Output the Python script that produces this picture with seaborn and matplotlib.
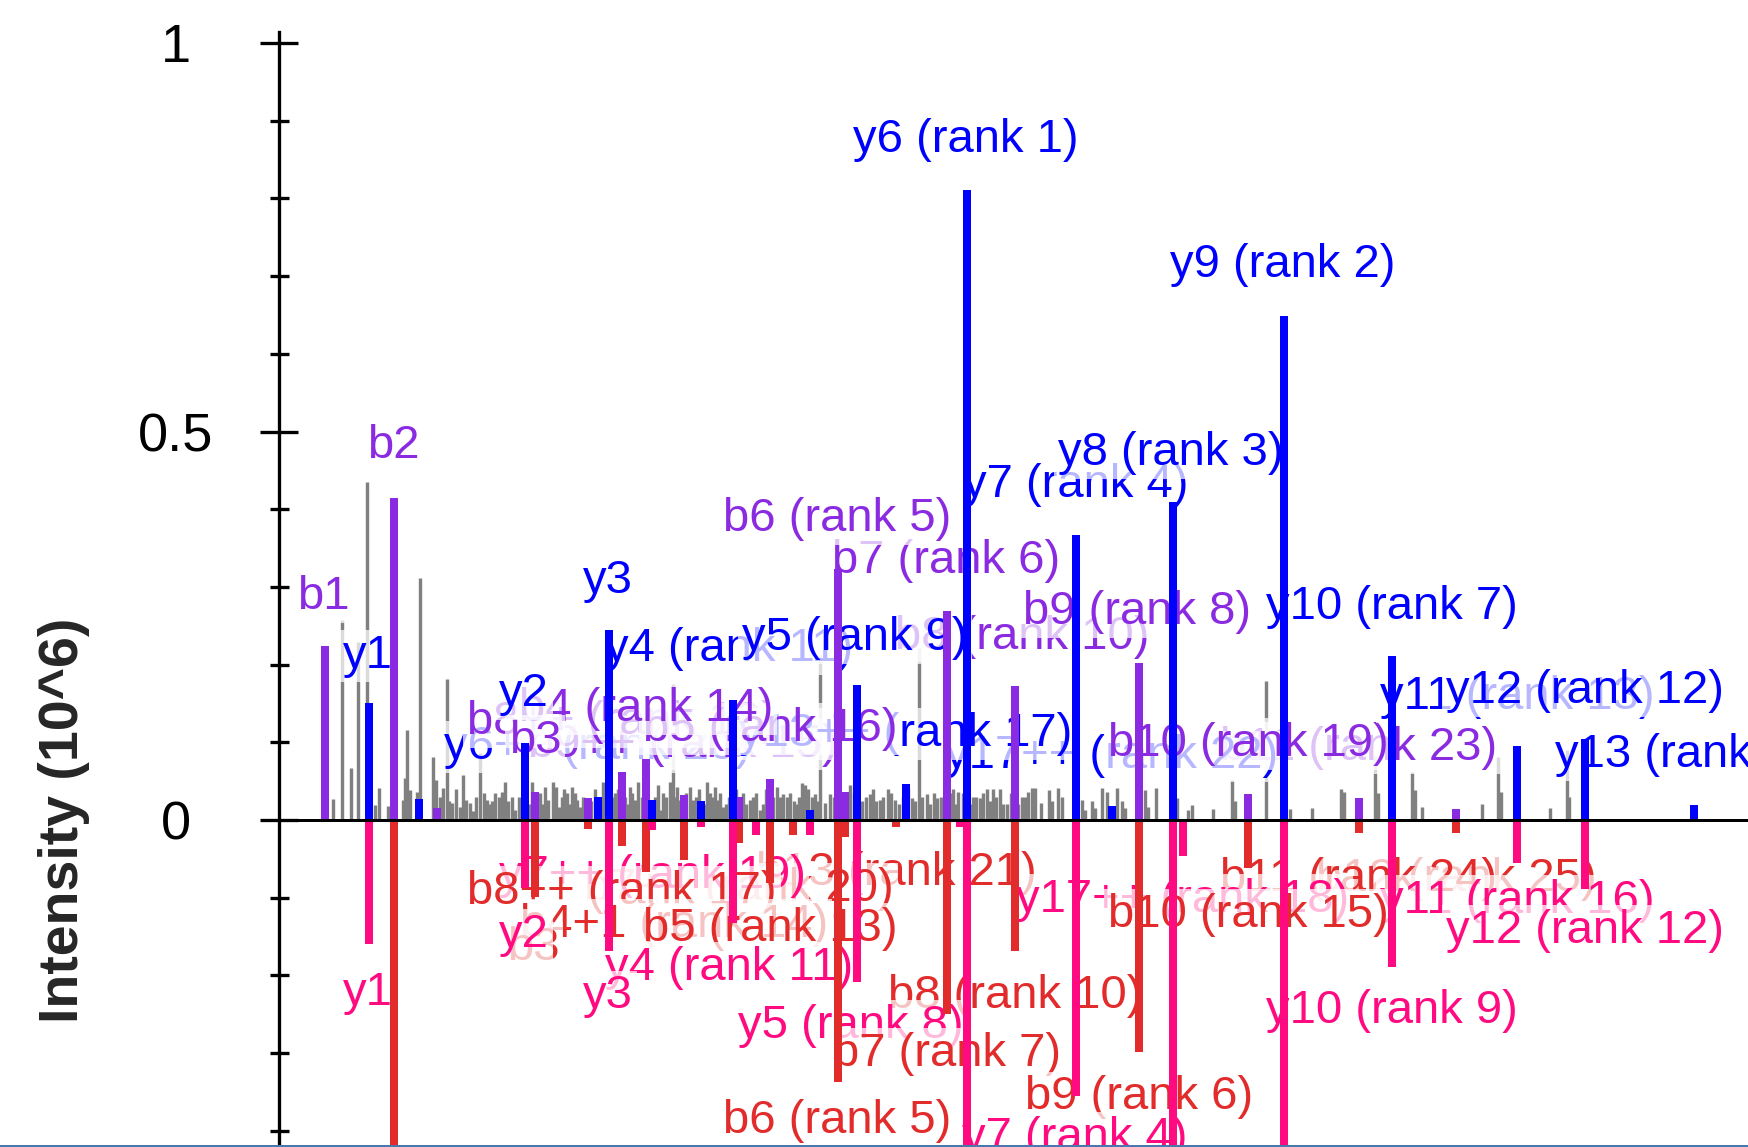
#Mirror spectrum: observed vs predicted fragment ions
#Top half is the observed spectrum, bottom half is the predicted one (mirrored).

import numpy as np
import pandas as pd
import matplotlib.pyplot as plt
import matplotlib.lines as mlines
from matplotlib.ticker import MultipleLocator
import seaborn as sns

#DATA
#m/z (arbitrary offset) and intensity in 10^6
b_top_mz = [46, 115, 158, 256, 309, 343, 367, 405, 460, 491, 559, 566, 668, 736, 860, 969, 1080, 1177]
b_top_int = [0.224, 0.415, 0.016, 0.036, 0.028, 0.062, 0.078, 0.032, 0.030, 0.053, 0.323, 0.036,
             0.269, 0.172, 0.202, 0.034, 0.028, 0.014]

y_top_mz = [90, 140, 246, 319, 330, 373, 422, 454, 531, 578, 627, 688, 797, 833, 894, 1005, 1113, 1238, 1306, 1415]
y_top_int = [0.150, 0.027, 0.099, 0.029, 0.245, 0.026, 0.024, 0.154, 0.013, 0.174, 0.046, 0.811,
             0.367, 0.018, 0.409, 0.649, 0.211, 0.095, 0.104, 0.019]

b_bot_mz = [46, 115, 256, 309, 343, 367, 405, 460, 491, 514, 559, 566, 617, 668, 736, 860, 969, 1080, 1177]
b_bot_int = [-0.003, -0.6, -0.099, -0.012, -0.034, -0.067, -0.052, -0.030, -0.081, -0.019, -0.337,
             -0.022, -0.009, -0.250, -0.169, -0.298, -0.062, -0.017, -0.017]

y_bot_mz = [90, 246, 330, 373, 422, 454, 477, 531, 578, 681, 688, 797, 894, 904, 1005, 1113, 1238, 1306]
y_bot_int = [-0.160, -0.087, -0.169, -0.013, -0.009, -0.133, -0.019, -0.019, -0.208, -0.009, -0.6,
             -0.355, -0.6, -0.046, -0.6, -0.189, -0.055, -0.089]

#unannotated peaks of the observed spectrum
noise_mz = [54, 63, 72, 79, 88, 96, 100, 109, 124, 126, 128, 131, 138, 141, 154, 157, 164, 168, 173,
            181, 184, 187, 191, 194, 201, 205, 208, 213, 220, 223, 226, 233, 236,
            253, 261, 266, 269, 274, 277, 280, 288, 293, 298, 301, 324, 336, 351, 356, 359, 381, 384,
            391, 394, 398, 401, 411, 414, 428, 431, 436, 439, 444, 464, 471, 481, 498,
            504, 508, 515, 523, 526, 536, 541, 546, 551, 571, 583, 591, 601, 609, 616, 633, 640, 648,
            658, 674, 679, 694, 701, 708, 714, 721, 728, 743, 749,
            753, 756, 762, 770, 773, 779, 783, 803, 806, 813, 816, 823, 828, 838, 843, 846, 866, 869,
            877, 898, 909, 913, 934, 953, 956, 987,
            1011, 1033, 1062, 1065, 1096, 1099, 1133, 1136, 1143, 1203, 1219, 1222, 1271, 1288, 1290]
noise_int = [0.027, 0.258, 0.067, 0.229, 0.435, 0.019, 0.041, 0.018, 0.026, 0.054, 0.116, 0.039, 0.036,
             0.311, 0.081, 0.051, 0.041, 0.181, 0.022, 0.017, 0.058, 0.026, 0.022, 0.012, 0.086, 0.035,
             0.026, 0.024, 0.030, 0.036, 0.049, 0.030, 0.013,
             0.049, 0.035, 0.043, 0.026, 0.049, 0.043, 0.017, 0.035, 0.043, 0.026, 0.017, 0.049, 0.035,
             0.043, 0.026, 0.049, 0.013, 0.035, 0.049, 0.175, 0.043, 0.026, 0.043, 0.026, 0.049, 0.035,
             0.043, 0.026, 0.017, 0.035, 0.026, 0.013, 0.043,
             0.034, 0.030, 0.024, 0.047, 0.045, 0.034, 0.212, 0.022, 0.034, 0.045, 0.024, 0.034, 0.026,
             0.040, 0.026, 0.028, 0.222, 0.034, 0.028, 0.040, 0.036, 0.030, 0.028, 0.040, 0.040, 0.040,
             0.020, 0.030, 0.036,
             0.041, 0.041, 0.022, 0.038, 0.024, 0.041, 0.030, 0.026, 0.013, 0.025, 0.015, 0.041, 0.036,
             0.041, 0.024, 0.015, 0.039, 0.017, 0.041, 0.028, 0.013, 0.019, 0.014, 0.052, 0.024, 0.179,
             0.014, 0.015, 0.040, 0.036, 0.083, 0.035, 0.062, 0.039, 0.017, 0.020, 0.081, 0.036, 0.015,
             0.090, 0.030]

#small peaks filling the dense middle of the spectrum
low_noise_mz = [161, 170, 177, 197, 210, 216, 229, 240, 243,
                250, 258, 263, 283, 285, 291, 296, 304, 307, 312, 316, 321, 327, 333, 339, 346, 349,
                353, 363, 365, 370, 376, 379, 387, 396, 404, 407, 417, 420, 425, 433, 441, 447, 450,
                457, 467, 474, 477, 484, 487, 494, 501, 511, 518, 520, 529, 533, 539, 555, 558, 563,
                566, 575, 580, 587, 594, 597, 604, 612, 620, 624, 629, 636, 643, 651, 655, 662, 666,
                671, 676, 684, 691, 697, 704, 711, 717, 724, 732, 739, 746]
low_noise_int = [0.030, 0.025, 0.040, 0.030, 0.020, 0.035, 0.025, 0.030, 0.020,
                 0.020, 0.030, 0.020, 0.030, 0.040, 0.020, 0.035, 0.030, 0.020, 0.025, 0.040, 0.030,
                 0.020, 0.030, 0.040, 0.030, 0.020, 0.035, 0.030, 0.040, 0.020, 0.030, 0.045, 0.030,
                 0.030, 0.020, 0.035, 0.030, 0.040, 0.020, 0.030, 0.035, 0.020, 0.030, 0.040, 0.020,
                 0.030, 0.035, 0.020, 0.040, 0.030, 0.030, 0.035, 0.020, 0.030, 0.040, 0.030, 0.025,
                 0.030, 0.040, 0.020, 0.030, 0.035, 0.020, 0.030, 0.040, 0.025, 0.030, 0.035, 0.020,
                 0.030, 0.040, 0.025, 0.030, 0.020, 0.035, 0.030, 0.020, 0.035, 0.020, 0.035, 0.020,
                 0.030, 0.035, 0.025, 0.030, 0.020, 0.035, 0.020, 0.030]

#annotations, in drawing order (lower priority first, later ones sit on top)
top_labels = ["y6++ (rank 20)", "b9++ (rank 15)", "b11 (rank 23)", "y17++ (rank 22)", "y13 (rank 21)",
              "b10 (rank 19)", "b8++ (rank 18)", "y13++ (rank 17)", "b5 (rank 16)", "b4 (rank 14)",
              "y11 (rank 13)", "y12 (rank 12)", "y4 (rank 11)", "b8 (rank 10)", "y5 (rank 9)",
              "b9 (rank 8)", "y10 (rank 7)", "b7 (rank 6)", "b6 (rank 5)", "y7 (rank 4)", "y8 (rank 3)",
              "y9 (rank 2)", "y6 (rank 1)", "b3", "b1", "b2", "y1", "y2", "y3"]
top_label_mz = [319, 404, 1080, 833, 1415, 969, 343, 627, 491, 367, 1238, 1306, 450, 743, 576, 858,
                1113, 667, 558, 797, 892, 1004, 687, 256, 44, 114, 89, 245, 329]
top_label_int = [0.094, 0.097, 0.093, 0.082, 0.084, 0.098, 0.126, 0.111, 0.117, 0.143, 0.158, 0.166,
                 0.220, 0.236, 0.234, 0.268, 0.274, 0.333, 0.387, 0.431, 0.472, 0.714, 0.875, 0.102,
                 0.287, 0.481, 0.211, 0.162, 0.308]

bot_labels = ["b12 (rank 25)", "b11 (rank 24)", "b13 (rank 21)", "b7++ (rank 20)", "y7++ (rank 19)",
              "y17++ (rank 18)", "b8++ (rank 17)", "b4+1 (rank 14)", "y11 (rank 16)", "b10 (rank 15)",
              "b5 (rank 13)", "y12 (rank 12)", "y4 (rank 11)", "b8 (rank 10)", "y10 (rank 9)",
              "y5 (rank 8)", "b7 (rank 7)", "b9 (rank 6)", "b6 (rank 5)", "y7 (rank 4)",
              "b3", "y1", "y2", "y3"]
bot_label_mz = [1177, 1080, 617, 460, 373, 904, 343, 395, 1238, 969, 491, 1306, 450, 736, 1113, 572,
                668, 860, 558, 796, 254, 89, 245, 329]
bot_label_int = [-0.076, -0.076, -0.068, -0.089, -0.072, -0.103, -0.093, -0.135, -0.104, -0.122,
                 -0.140, -0.143, -0.190, -0.227, -0.246, -0.265, -0.301, -0.357, -0.387, -0.409,
                 -0.165, -0.223, -0.148, -0.227]

ytick_vals = [0, 0.5, 1]
ytick_text = ["0", "0.5", "1"]

#COLOURS
c_b_top = '#8a2be2'
c_y_top = '#0000ff'
c_b_bot = '#e22b2b'
c_y_bot = '#ff0a80'
c_noise = '#808080'

def label_colour(lbl, top):
    if lbl.startswith('b'):
        return c_b_top if top else c_b_bot
    return c_y_top if top else c_y_bot

#PLOTTING
sns.set_theme(style="white")
plt.rcParams['font.family'] = ['Liberation Sans', 'DejaVu Sans']

px = 72 / 100  #points per pixel at dpi 100
fig = plt.figure(figsize=(17.49, 11.47), dpi=100)
ax = fig.add_axes([279 / 1749, 0, 1470 / 1749, 1])

ax.vlines(low_noise_mz, 0, low_noise_int, color=c_noise, lw=3.4 * px, zorder=1)
ax.vlines(noise_mz, 0, noise_int, color=c_noise, lw=3.4 * px, zorder=1)

#peak labels with semi transparent white boxes
for lbl, x, y in zip(top_labels, top_label_mz, top_label_int):
    ax.text(x, y, lbl, ha='center', va='center', fontsize=34, color=label_colour(lbl, True),
            zorder=2, bbox=dict(boxstyle='square,pad=0.08', fc='white', ec='none', alpha=0.72))
for lbl, x, y in zip(bot_labels, bot_label_mz, bot_label_int):
    ax.text(x, y, lbl, ha='center', va='center', fontsize=34, color=label_colour(lbl, False),
            zorder=2, bbox=dict(boxstyle='square,pad=0.08', fc='white', ec='none', alpha=0.72))

bar_w = 8 * px
ax.vlines(b_top_mz, 0, b_top_int, color=c_b_top, lw=bar_w, zorder=3)
ax.vlines(y_top_mz, 0, y_top_int, color=c_y_top, lw=bar_w, zorder=3)
ax.vlines(b_bot_mz, 0, b_bot_int, color=c_b_bot, lw=bar_w, zorder=3)
ax.vlines(y_bot_mz, 0, y_bot_int, color=c_y_bot, lw=bar_w, zorder=3)

ax.axhline(0, color='black', lw=3 * px, zorder=4)

ax.set_xlim(0, 1470)
ax.set_ylim(-(1147 - 820) / 777, 820 / 777)

sns.despine(ax=ax, top=True, right=True, bottom=True)
ax.spines['left'].set_linewidth(3.3 * px)
ax.spines['left'].set_color('black')
ax.spines['left'].set_bounds(-0.5, 1.014)
ax.spines['left'].set_zorder(5)

ax.set_xticks([])
ax.set_yticks(ytick_vals)
ax.set_yticklabels(ytick_text, ha='center')
ax.yaxis.set_minor_locator(MultipleLocator(0.1))
ax.tick_params(axis='y', which='major', direction='inout', length=38 * px, width=3.3 * px,
               color='black', labelsize=39, labelcolor='black', pad=84 * px, left=True)
ax.tick_params(axis='y', which='minor', direction='inout', length=19 * px, width=3.3 * px,
               color='black', left=True)
ax.grid(False)

fig.text(64 / 1749, 1 - 820 / 1147, "Intensity (10^6)", rotation=90, fontsize=40,
         fontweight='bold', ha='center', va='center')

#thin frame line along the lower edge
fig.add_artist(mlines.Line2D([0, 1], [1.5 / 1147, 1.5 / 1147], transform=fig.transFigure,
                             color='#4a78aa', lw=3 * px))

plt.savefig('out.png', dpi=100)
